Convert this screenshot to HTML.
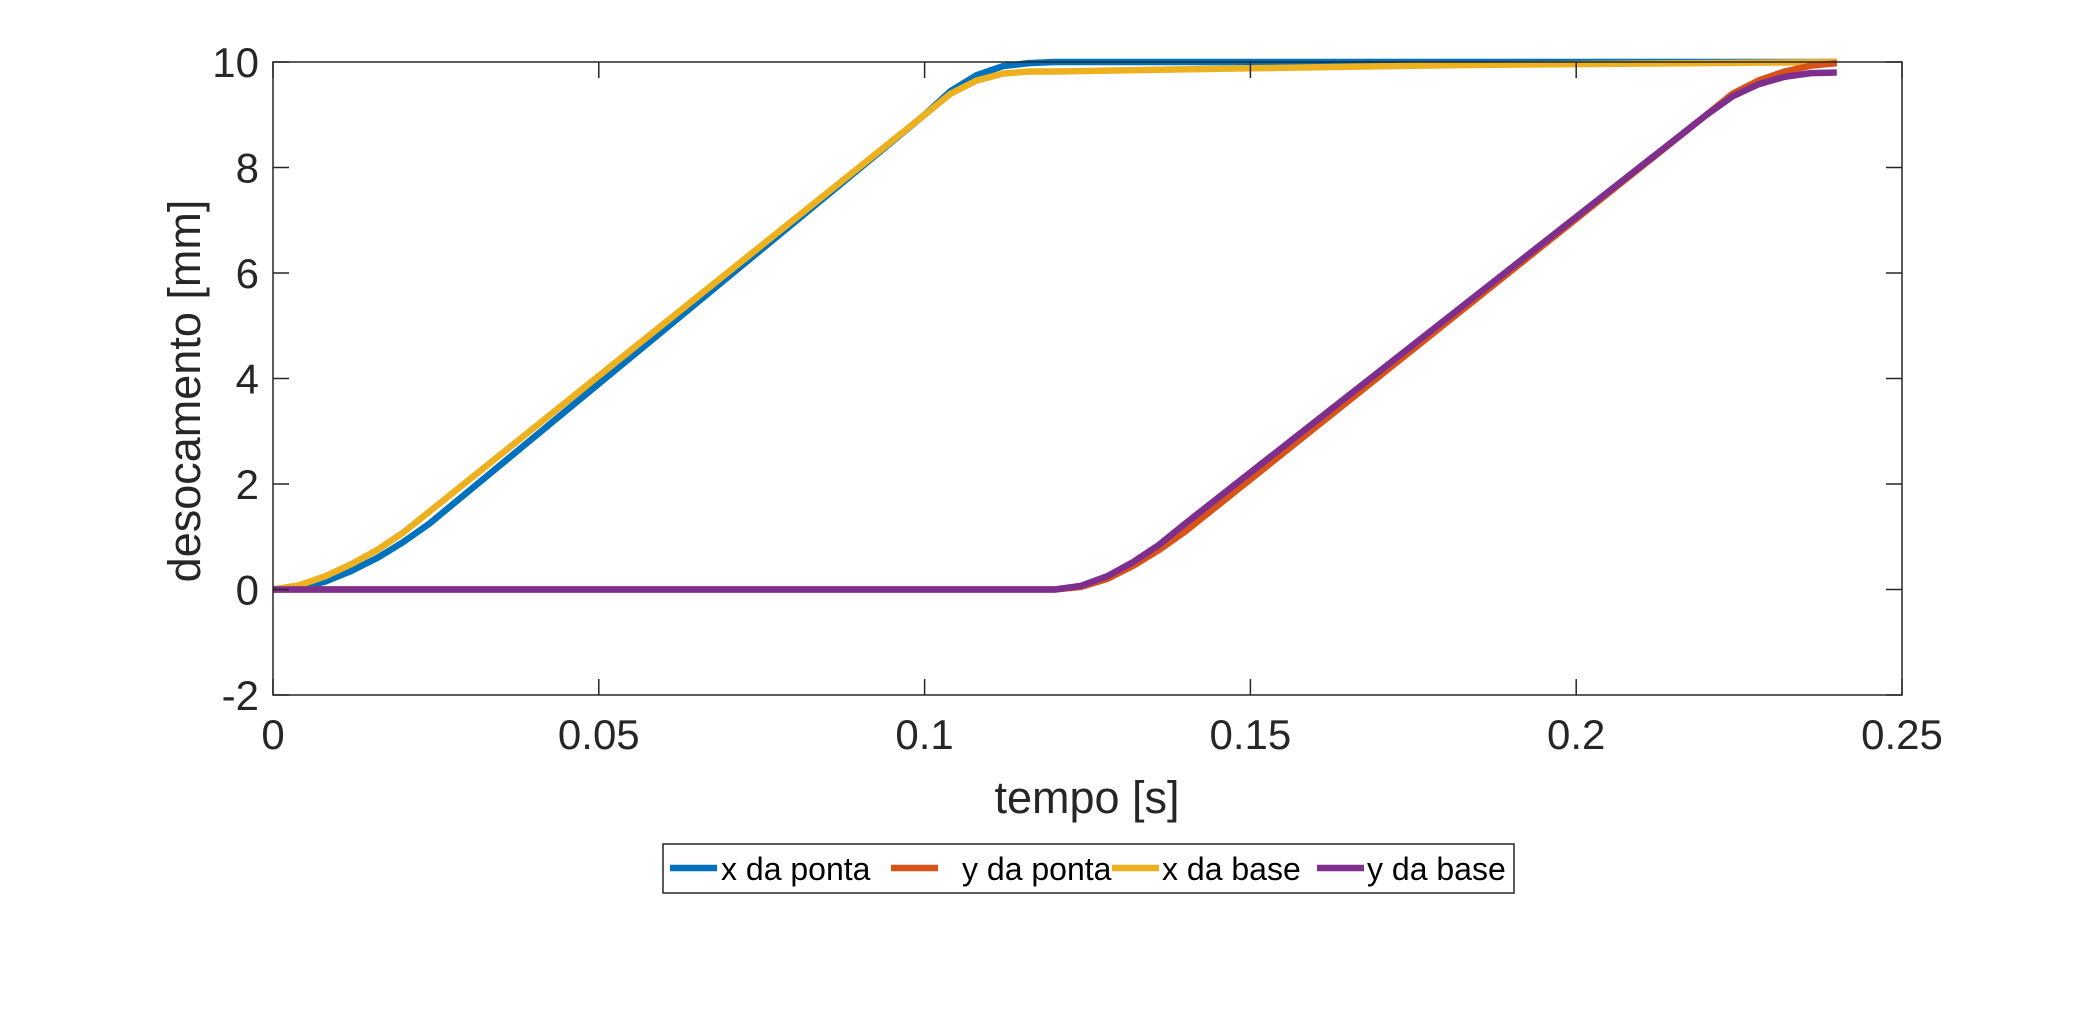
<!DOCTYPE html>
<html><head><meta charset="utf-8"><style>
html,body{margin:0;padding:0;background:#fff;}
svg{display:block;font-family:"Liberation Sans",Arial,sans-serif;}
</style></head><body>
<svg id="chart" width="2100" height="1017" viewBox="0 0 2100 1017">
<rect x="0" y="0" width="2100" height="1017" fill="#fff"/>
<g id="plot"></g>
<g id="axes"></g>
<text x="1087" y="813" font-size="45" text-anchor="middle" fill="#262626">tempo [s]</text>
<text transform="translate(200,391) rotate(-90)" font-size="45" text-anchor="middle" fill="#262626">desocamento [mm]</text>
<g id="legend"></g>
</svg>
<script>
const xTicks=[0,0.05,0.1,0.15,0.2,0.25];
const xTickLabels=["0","0.05","0.1","0.15","0.2","0.25"];
const yTicks=[-2,0,2,4,6,8,10];
const yTickLabels=["-2","0","2","4","6","8","10"];
const seriesNames=["x da ponta","y da ponta","x da base","y da base"];
const seriesColors=["#0072BD","#D95319","#EDB120","#7E2F8E"];
const tXPonta=[0,0.004,0.008,0.012,0.016,0.02,0.024,0.1,0.104,0.108,0.112,0.116,0.12,0.15,0.24];
const vXPonta=[0,0.02,0.15,0.35,0.6,0.9,1.25,9.0,9.45,9.75,9.92,9.98,10,10,10];
const tYPonta=[0,0.12,0.124,0.128,0.132,0.136,0.14,0.22,0.224,0.228,0.232,0.236,0.24];
const vYPonta=[0,0,0.05,0.2,0.45,0.75,1.1,9.0,9.4,9.65,9.82,9.93,9.98];
const tXBase=[0,0.004,0.008,0.012,0.016,0.02,0.1,0.104,0.108,0.112,0.116,0.12,0.15,0.18,0.24];
const vXBase=[0,0.08,0.25,0.48,0.75,1.08,9.0,9.4,9.65,9.78,9.82,9.82,9.88,9.94,10];
const tYBase=[0,0.12,0.124,0.128,0.132,0.136,0.14,0.22,0.224,0.228,0.232,0.236,0.24];
const vYBase=[0,0,0.07,0.25,0.52,0.85,1.25,9.0,9.35,9.58,9.72,9.79,9.8];
const ns="http://www.w3.org/2000/svg";
const L=273,R=1902,T=62,B=695;
const xMin=0,xMax=0.25,yMin=-2,yMax=10;
function xs(v){return L+(v-xMin)/(xMax-xMin)*(R-L);}
function ys(v){return B-(v-yMin)/(yMax-yMin)*(B-T);}
function mk(tag,attrs,parent){const e=document.createElementNS(ns,tag);for(const k in attrs)e.setAttribute(k,attrs[k]);parent.appendChild(e);return e;}
const plot=document.getElementById('plot'),axes=document.getElementById('axes'),leg=document.getElementById('legend');
const ts=[tXPonta,tYPonta,tXBase,tYBase],vs=[vXPonta,vYPonta,vXBase,vYBase];
const order=[0,2,1,3];
order.forEach(i=>{
 const pts=ts[i].map((t,j)=>xs(t).toFixed(1)+","+ys(vs[i][j]).toFixed(1)).join(" ");
 const p=mk('polyline',{points:pts,fill:'none',stroke:seriesColors[i],'stroke-width':6.5,'stroke-linejoin':'round'},plot);
 
 
});
const box=mk('rect',{x:L,y:T,width:R-L,height:B-T,fill:'none',stroke:'#262626','stroke-width':1.5},axes);


xTicks.forEach((v,i)=>{
 const x=xs(v);
 mk('line',{x1:x,y1:B,x2:x,y2:B-16,stroke:'#262626','stroke-width':1.5},axes);
 mk('line',{x1:x,y1:T,x2:x,y2:T+16,stroke:'#262626','stroke-width':1.5},axes);
 const t=mk('text',{x:x,y:B+54,'font-size':42,'text-anchor':'middle',fill:'#262626'},axes);
 t.textContent=xTickLabels[i];
 
 
});
yTicks.forEach((v,i)=>{
 const y=ys(v);
 mk('line',{x1:L,y1:y,x2:L+16,y2:y,stroke:'#262626','stroke-width':1.5},axes);
 mk('line',{x1:R,y1:y,x2:R-16,y2:y,stroke:'#262626','stroke-width':1.5},axes);
 const t=mk('text',{x:L-14,y:y+15,'font-size':42,'text-anchor':'end',fill:'#262626'},axes);
 t.textContent=yTickLabels[i];
 
 
});
const lb=mk('rect',{x:663,y:844,width:851,height:49,fill:'#fff',stroke:'#262626','stroke-width':1.5},leg);


const lineX=[670,891,1112,1317],textX=[721,962,1162,1367];
seriesNames.forEach((n,i)=>{
 const g=mk('g',{},leg);
 
 
 mk('line',{x1:lineX[i],y1:868,x2:lineX[i]+47,y2:868,stroke:seriesColors[i],'stroke-width':6.5},g);
 const t=mk('text',{x:textX[i],y:880,'font-size':32,fill:'#000'},g);
 t.textContent=n;
});
</script>
</body></html>
